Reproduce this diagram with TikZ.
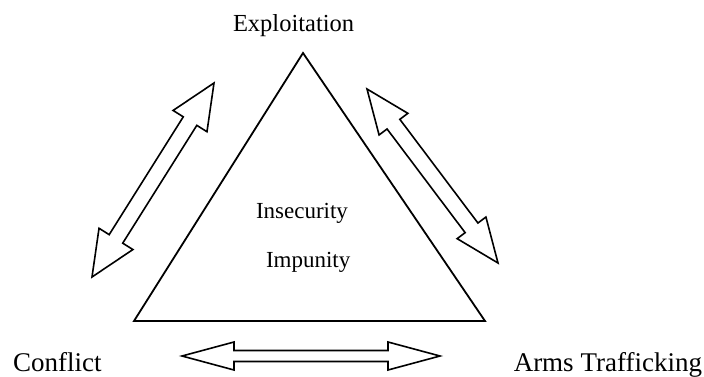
\documentclass[tikz,border=0pt]{standalone}
\usepackage{fontspec}
\setmainfont{Liberation Serif}
\usetikzlibrary{calc}
\tikzset{
  triline/.style={line width=1.8pt, line join=miter},
  arrowline/.style={line width=1.6pt, line join=miter, fill=white},
  lbl/.style={anchor=base west, inner sep=0pt, outer sep=0pt}
}
\newcommand\dblshape[5]{%
  \path ($(#1)!#3!(#2)$) coordinate (#1P) ($(#2)!#3!(#1)$) coordinate (#1Q);
  \draw[arrowline] (#1) -- ($(#1P)!#4!90:(#2)$) -- ($(#1P)!#5!90:(#2)$)
    -- ($(#1Q)!#5!90:(#2)$) -- ($(#1Q)!#4!90:(#2)$) -- (#2)
    -- ($(#1Q)!#4!-90:(#2)$) -- ($(#1Q)!#5!-90:(#2)$)
    -- ($(#1P)!#5!-90:(#2)$) -- ($(#1P)!#4!-90:(#2)$) -- cycle;}
\begin{document}
\begin{tikzpicture}[x=1pt,y=-1pt]
\useasboundingbox (0,0) rectangle (704,377);
% triangle
\coordinate (apex) at (303,53);
\coordinate (bl) at (134,321);
\coordinate (br) at (485,321);
\draw[triline] (apex) -- (bl) -- (br) -- cycle;
% arrows
\coordinate (la) at (214,83);
\coordinate (lb) at (92,277);
\dblshape{la}{lb}{45pt}{20pt}{8pt}
\coordinate (ra) at (367,89);
\coordinate (rb) at (498,263);
\dblshape{ra}{rb}{44pt}{18pt}{8pt}
\coordinate (ba) at (182,356);
\coordinate (bb) at (440,356);
\dblshape{ba}{bb}{52pt}{14pt}{5.5pt}
% labels
\node[lbl, font=\fontsize{24.5}{28}\selectfont] (expl) at (233,32) {Exploitation};
\node[lbl, font=\fontsize{27}{30}\selectfont] (conf) at (13,371) {Conflict};
\node[lbl, font=\fontsize{27}{30}\selectfont, anchor=base east] (arms) at (702,371) {Arms Trafficking};
\node[lbl, font=\fontsize{23}{26}\selectfont] (insec) at (256,218) {Insecurity};
\node[lbl, font=\fontsize{23}{26}\selectfont] (impun) at (266,267) {Impunity};
\end{tikzpicture}
\end{document}
